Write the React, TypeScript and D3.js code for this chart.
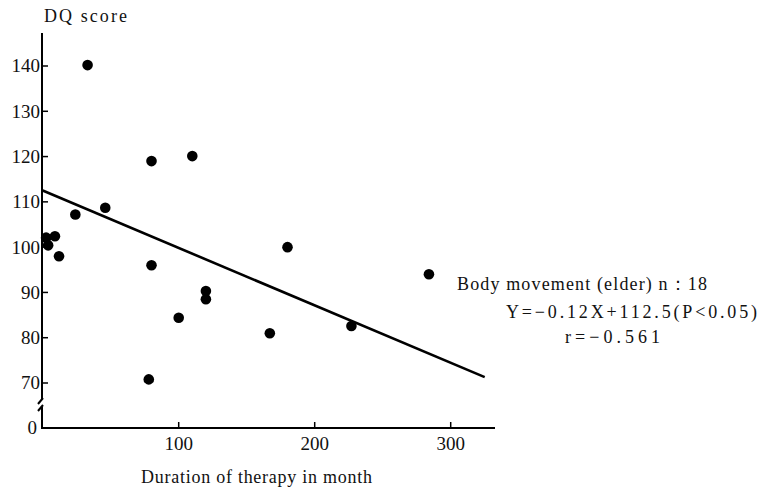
import React from "react";
import * as d3 from "d3";

const width = 761;
const height = 489;

// months of therapy, DQ score
const months = [33, 80, 110, 46, 24, 2.5, 4, 9, 12, 80, 100, 78, 120, 120, 167, 180, 227, 284];
const dq = [140.2, 119, 120.1, 108.7, 107.2, 102.1, 100.4, 102.4, 98, 96, 84.4, 70.8, 90.3, 88.5, 81, 100, 82.6, 94];

// regression line endpoints (as drawn)
const fitX = [0, 325];
const fitY = [112.5, 71.3];

const yTicks = [70, 80, 90, 100, 110, 120, 130, 140];
const xTicks = [100, 200, 300];

const legendLines = [
  "Body movement (elder) n\uFF1A18",
  "Y=\u22120.12X+112.5(P<0.05)",
  "r=\u22120.561",
];

const font = "Liberation Serif";

const x = d3.scaleLinear().domain([0, 300]).range([42.7, 450.7]);
const y = d3.scaleLinear().domain([70, 140]).range([383, 66]);

export default function App() {
  const line = d3.line<number>()
    .x((d) => x(d))
    .y((_, i) => y(fitY[i]));

  const x0 = x(0) - 0.7;
  const yBase = 428;
  const txt = { fontFamily: font, fontSize: "18px" };
  const tick = { fontFamily: font, fontSize: "19px" };

  return (
    <svg width={width} height={height} style={{ position: "absolute", left: 0, top: 0, background: "#fff" }}>
      {/* y axis with break */}
      <line x1={x0} x2={x0} y1={33} y2={399} stroke="#000" strokeWidth={2} />
      <line x1={x0} x2={x0} y1={407} y2={yBase} stroke="#000" strokeWidth={2} />
      <line x1={x0 - 4} x2={x0 + 1} y1={404} y2={398} stroke="#000" strokeWidth={2} />
      <line x1={x0 - 4} x2={x0 + 1} y1={411} y2={405} stroke="#000" strokeWidth={2} />
      {/* x axis */}
      <line x1={x0 - 1} x2={495} y1={yBase} y2={yBase} stroke="#000" strokeWidth={2} />

      {yTicks.map((t) => (
        <g key={t} transform={`translate(${x0},${y(t)})`}>
          <line x1={0} x2={6} stroke="#000" strokeWidth={1.5} />
          <text x={-2} dy="0.34em" textAnchor="end" style={tick} fill="#111">{t}</text>
        </g>
      ))}
      {xTicks.map((t) => (
        <g key={t} transform={`translate(${x(t)},${yBase})`}>
          <line y1={0} y2={-6} stroke="#000" strokeWidth={1.5} />
          <text y={22} textAnchor="middle" style={tick} fill="#111">{t}</text>
        </g>
      ))}
      <text x={37} y={434} textAnchor="end" style={tick} fill="#111">0</text>

      {/* regression line */}
      <path d={line(fitX) || ""} fill="none" stroke="#000" strokeWidth={2.6} />

      {months.map((m, i) => (
        <circle key={i} cx={x(m)} cy={y(dq[i])} r={5.3} fill="#000" />
      ))}

      <text x={44} y={22} style={txt} fill="#111" textLength={83}>DQ score</text>
      <text x={141} y={483} style={txt} fill="#111" textLength={231}>Duration of therapy in month</text>

      <text x={457} y={290} style={txt} fill="#111" textLength={250}>{legendLines[0]}</text>
      <text x={506} y={318} style={txt} fill="#111" textLength={251}>{legendLines[1]}</text>
      <text x={565} y={343} style={txt} fill="#111" textLength={95}>{legendLines[2]}</text>
    </svg>
  );
}
